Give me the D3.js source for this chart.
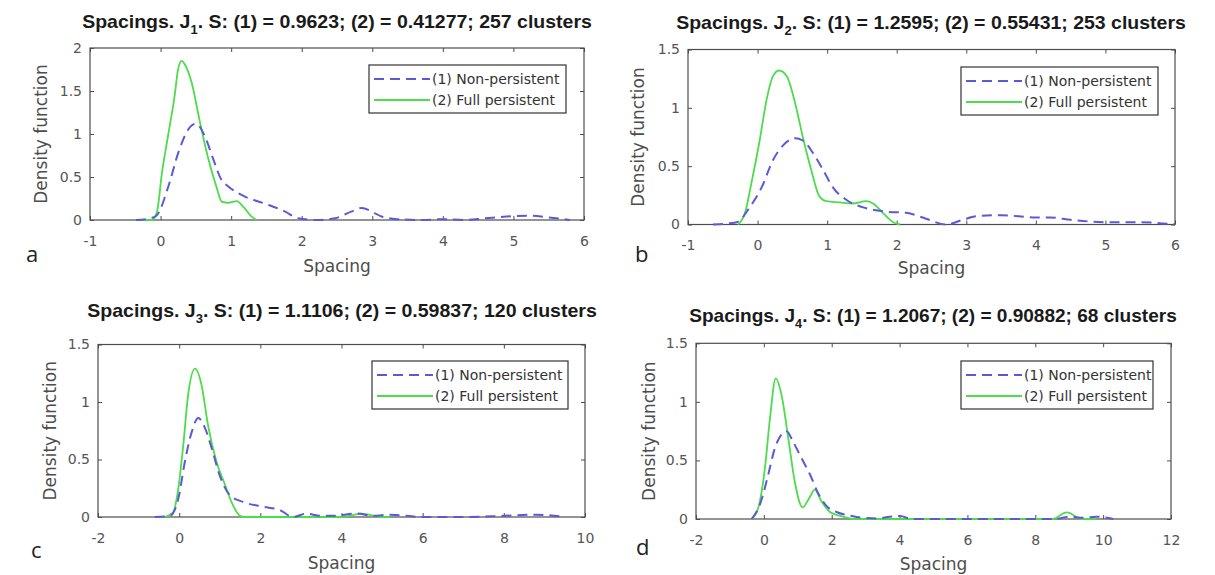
<!DOCTYPE html>
<html>
<head>
<meta charset="utf-8">
<script src="https://cdn.jsdelivr.net/npm/d3@7"></script>
<style>
  body { margin: 0; background: #fff; }
  text { font-family: "DejaVu Sans", sans-serif; }
</style>
</head>
<body>
<div id="chart"></div>
<script>
// ---- data ----
const subscripts = ["1", "2", "3", "4"];
const titleTails = [
  ". S: (1) = 0.9623; (2) = 0.41277; 257 clusters",
  ". S: (1) = 1.2595; (2) = 0.55431; 253 clusters",
  ". S: (1) = 1.1106; (2) = 0.59837; 120 clusters",
  ". S: (1) = 1.2067; (2) = 0.90882; 68 clusters"
];
const panelLetters = ["a", "b", "c", "d"];
const seriesNames = ["(1) Non-persistent", "(2) Full persistent"];

const xTicks = [
  [-1, 0, 1, 2, 3, 4, 5, 6],
  [-1, 0, 1, 2, 3, 4, 5, 6],
  [-2, 0, 2, 4, 6, 8, 10],
  [-2, 0, 2, 4, 6, 8, 10, 12]
];
const yTicks = [
  [0, 0.5, 1, 1.5, 2],
  [0, 0.5, 1, 1.5],
  [0, 0.5, 1, 1.5],
  [0, 0.5, 1, 1.5]
];

// panel a
const nonX_a = [-0.35, -0.2, -0.06, 0.11, 0.25, 0.39, 0.5, 0.63, 0.75, 0.86, 0.96, 1.2, 1.48, 1.76, 1.95, 2.23, 2.47, 2.71, 2.85, 2.99, 3.13, 3.35, 3.7, 4.0, 4.3, 4.6, 4.9, 5.2, 5.5, 5.8];
const nonY_a = [0, 0.01, 0.05, 0.39, 0.78, 1.05, 1.12, 0.97, 0.7, 0.47, 0.39, 0.27, 0.19, 0.1, 0.02, 0, 0.02, 0.1, 0.14, 0.1, 0.04, 0.01, 0, 0.01, 0, 0.02, 0.04, 0.05, 0.03, 0];
const fullX_a = [-0.36, -0.12, -0.05, 0.02, 0.11, 0.2, 0.25, 0.3, 0.35, 0.44, 0.56, 0.68, 0.79, 0.87, 0.96, 1.08, 1.17, 1.29, 1.36];
const fullY_a = [0, 0, 0.1, 0.55, 1.0, 1.45, 1.76, 1.85, 1.8, 1.6, 1.13, 0.7, 0.39, 0.21, 0.2, 0.22, 0.155, 0.04, 0];

// panel b
const nonX_b = [-0.64, -0.3, -0.11, 0.06, 0.22, 0.37, 0.54, 0.65, 0.8, 0.94, 1.08, 1.28, 1.56, 1.85, 2.14, 2.42, 2.71, 2.95, 3.14, 3.5, 4.0, 4.2, 4.5, 5.0, 5.5, 6.0];
const nonY_b = [0, 0.02, 0.15, 0.32, 0.55, 0.68, 0.74, 0.72, 0.61, 0.47, 0.32, 0.21, 0.14, 0.11, 0.1, 0.05, 0, 0.04, 0.07, 0.08, 0.06, 0.06, 0.04, 0.02, 0.02, 0];
const fullX_b = [-0.28, -0.18, -0.09, 0.03, 0.13, 0.22, 0.31, 0.42, 0.54, 0.65, 0.77, 0.89, 0.99, 1.18, 1.37, 1.56, 1.66, 1.8, 1.95, 2.05];
const fullY_b = [0, 0.1, 0.35, 0.72, 1.07, 1.27, 1.32, 1.27, 1.04, 0.75, 0.47, 0.24, 0.2, 0.19, 0.18, 0.2, 0.18, 0.1, 0.02, 0];

// panel c
const nonX_c = [-0.6, -0.23, -0.02, 0.14, 0.31, 0.47, 0.63, 0.8, 1.0, 1.25, 1.58, 2.07, 2.48, 2.81, 3.14, 3.47, 3.8, 4.37, 4.78, 5.2, 6.0, 7.0, 8.0, 8.8, 9.5];
const nonY_c = [0, 0.01, 0.16, 0.48, 0.74, 0.86, 0.78, 0.6, 0.36, 0.19, 0.13, 0.09, 0.06, 0, 0.03, 0.01, 0.01, 0.03, 0.01, 0.02, 0, 0, 0.01, 0.02, 0];
const fullX_c = [-0.35, -0.15, -0.02, 0.1, 0.22, 0.39, 0.55, 0.71, 0.92, 1.13, 1.29, 1.5, 1.6, 3.0, 4.0, 4.5, 5.0, 5.2];
const fullY_c = [0, 0.04, 0.25, 0.62, 1.06, 1.29, 1.15, 0.8, 0.48, 0.28, 0.13, 0.01, 0, 0, 0, 0.03, 0, 0];

// panel d
const nonX_d = [-0.36, -0.12, 0.13, 0.32, 0.47, 0.67, 0.86, 1.11, 1.36, 1.6, 1.85, 2.14, 2.54, 2.93, 3.33, 3.72, 4.01, 4.36, 5.0, 8.6, 9.0, 9.4, 9.8, 10.3];
const nonY_d = [0, 0.12, 0.38, 0.6, 0.7, 0.75, 0.66, 0.52, 0.38, 0.22, 0.11, 0.06, 0.03, 0.01, 0.005, 0.02, 0.025, 0, 0, 0, 0.02, 0.01, 0.02, 0];
const fullX_d = [-0.36, -0.17, 0.03, 0.18, 0.35, 0.52, 0.72, 0.91, 1.14, 1.34, 1.5, 1.7, 1.95, 2.34, 2.7, 8.5, 8.93, 9.37, 9.8];
const fullY_d = [0, 0.09, 0.43, 0.86, 1.2, 1.06, 0.69, 0.32, 0.1, 0.18, 0.25, 0.15, 0.06, 0.02, 0, 0, 0.057, 0, 0];

const nonX = [nonX_a, nonX_b, nonX_c, nonX_d];
const nonY = [nonY_a, nonY_b, nonY_c, nonY_d];
const fullX = [fullX_a, fullX_b, fullX_c, fullX_d];
const fullY = [fullY_a, fullY_b, fullY_c, fullY_d];

// ---- layout ----
const layout = [
  {left: 90,  right: 584,  top: 48,    bottom: 220,   titleX: 337, titleY: 28,  titleW: 510, letterX: 26,  letterY: 262, legX: 369, legY: 65,  legW: 197, xlabY: 272, ylabX: 41},
  {left: 688, right: 1175, top: 49.5,  bottom: 224.5, titleX: 931, titleY: 29,  titleW: 510, letterX: 635, letterY: 262, legX: 961, legY: 67,  legW: 197, xlabY: 274, ylabX: 638},
  {left: 98,  right: 585,  top: 344.5, bottom: 517,   titleX: 342, titleY: 317, titleW: 510, letterX: 31,  letterY: 558, legX: 372, legY: 361, legW: 196, xlabY: 569, ylabX: 50},
  {left: 696, right: 1171, top: 343.3, bottom: 519,   titleX: 933, titleY: 322, titleW: 488, letterX: 636, letterY: 555, legX: 961, legY: 361, legW: 192, xlabY: 570, ylabX: 649}
];

const axisColor = "#4d4d4d";
const blue = "#5a5ad6";
const green = "#4cdc4c";

const svg = d3.select("#chart")
  .append("svg")
  .attr("width", 1215)
  .attr("height", 575)
  .style("background", "#fff");

layout.forEach((p, i) => {
  const xTk = xTicks[i], yTk = yTicks[i];
  const xScale = d3.scaleLinear()
    .domain([d3.min(xTk), d3.max(xTk)])
    .range([p.left, p.right]);
  const yScale = d3.scaleLinear()
    .domain([d3.min(yTk), d3.max(yTk)])
    .range([p.bottom, p.top]);

  const g = svg.append("g");

  // axes, ticks pointing inside like MATLAB
  g.append("g")
    .attr("transform", `translate(0,${p.bottom})`)
    .call(d3.axisBottom(xScale).tickValues(xTk).tickFormat(d => String(d))
      .tickSizeInner(-4).tickSizeOuter(0).tickPadding(16));
  g.append("g")
    .attr("transform", `translate(0,${p.top})`)
    .call(d3.axisTop(xScale).tickValues(xTk).tickFormat("")
      .tickSizeInner(-4).tickSizeOuter(0));
  g.append("g")
    .attr("transform", `translate(${p.left},0)`)
    .call(d3.axisLeft(yScale).tickValues(yTk).tickFormat(d => String(d))
      .tickSizeInner(-4).tickSizeOuter(0).tickPadding(8));
  g.append("g")
    .attr("transform", `translate(${p.right},0)`)
    .call(d3.axisRight(yScale).tickValues(yTk).tickFormat("")
      .tickSizeInner(-4).tickSizeOuter(0));

  g.selectAll(".domain").remove();
  g.selectAll(".tick line").attr("stroke", axisColor);
  g.selectAll(".tick text")
    .attr("fill", "#555")
    .style("font-size", "14px")
    .style("font-family", "'DejaVu Sans', sans-serif");

  // box
  g.append("rect")
    .attr("x", p.left).attr("y", p.top)
    .attr("width", p.right - p.left).attr("height", p.bottom - p.top)
    .attr("fill", "none").attr("stroke", axisColor).attr("stroke-width", 1.2);

  // curves
  const line = d3.line()
    .x(d => xScale(d[0]))
    .y(d => yScale(d[1]))
    .curve(d3.curveMonotoneX);

  const nonPts = nonX[i].map((x, k) => [x, nonY[i][k]]);
  const fullPts = fullX[i].map((x, k) => [x, fullY[i][k]]);

  g.append("path")
    .attr("d", line(fullPts))
    .attr("fill", "none").attr("stroke", green).attr("stroke-width", 1.8);
  g.append("path")
    .attr("d", line(nonPts))
    .attr("fill", "none").attr("stroke", blue).attr("stroke-width", 2)
    .attr("stroke-dasharray", "10,6");

  // title with subscript
  const title = svg.append("text")
    .attr("text-anchor", "middle")
    .attr("fill", "#1a1a1a")
    .style("font-family", "'Liberation Sans', Arial, sans-serif")
    .style("font-weight", "bold")
    .style("font-size", "18px");
  title.append("tspan").text("Spacings. J");
  title.append("tspan").text(subscripts[i])
    .attr("dy", 6).style("font-size", "12px");
  title.append("tspan").text(titleTails[i]).attr("dy", -6);
  const tw = title.node().getComputedTextLength();
  title.attr("transform", `translate(${p.titleX},${p.titleY}) scale(${p.titleW / tw},1)`);

  // axis labels
  svg.append("text")
    .attr("x", (p.left + p.right) / 2).attr("y", p.xlabY)
    .attr("text-anchor", "middle").attr("fill", axisColor)
    .style("font-size", "17px")
    .text("Spacing");
  svg.append("text")
    .attr("transform", `translate(${p.ylabX},${(p.top + p.bottom) / 2}) rotate(-90)`)
    .attr("text-anchor", "middle").attr("dy", "0.35em").attr("fill", axisColor)
    .style("font-size", "17px")
    .text("Density function");

  // panel letter
  svg.append("text")
    .attr("x", p.letterX).attr("y", p.letterY)
    .attr("fill", "#222")
    .style("font-family", "'Open Sans', sans-serif")
    .style("font-size", "22px")
    .text(panelLetters[i]);

  // legend
  const leg = svg.append("g").attr("transform", `translate(${p.legX},${p.legY})`);
  leg.append("rect")
    .attr("width", p.legW).attr("height", 48)
    .attr("fill", "#fff").attr("stroke", "#333").attr("stroke-width", 1.2);
  [[blue, "10,6", 14], [green, null, 35]].forEach((s, k) => {
    leg.append("line")
      .attr("x1", 5).attr("x2", 61).attr("y1", s[2]).attr("y2", s[2])
      .attr("stroke", s[0]).attr("stroke-width", 2)
      .attr("stroke-dasharray", s[1]);
    leg.append("text")
      .attr("x", 63).attr("y", s[2]).attr("dy", "0.35em")
      .attr("fill", "#333")
      .style("font-size", "14px")
      .text(seriesNames[k]);
  });
});
</script>
</body>
</html>
